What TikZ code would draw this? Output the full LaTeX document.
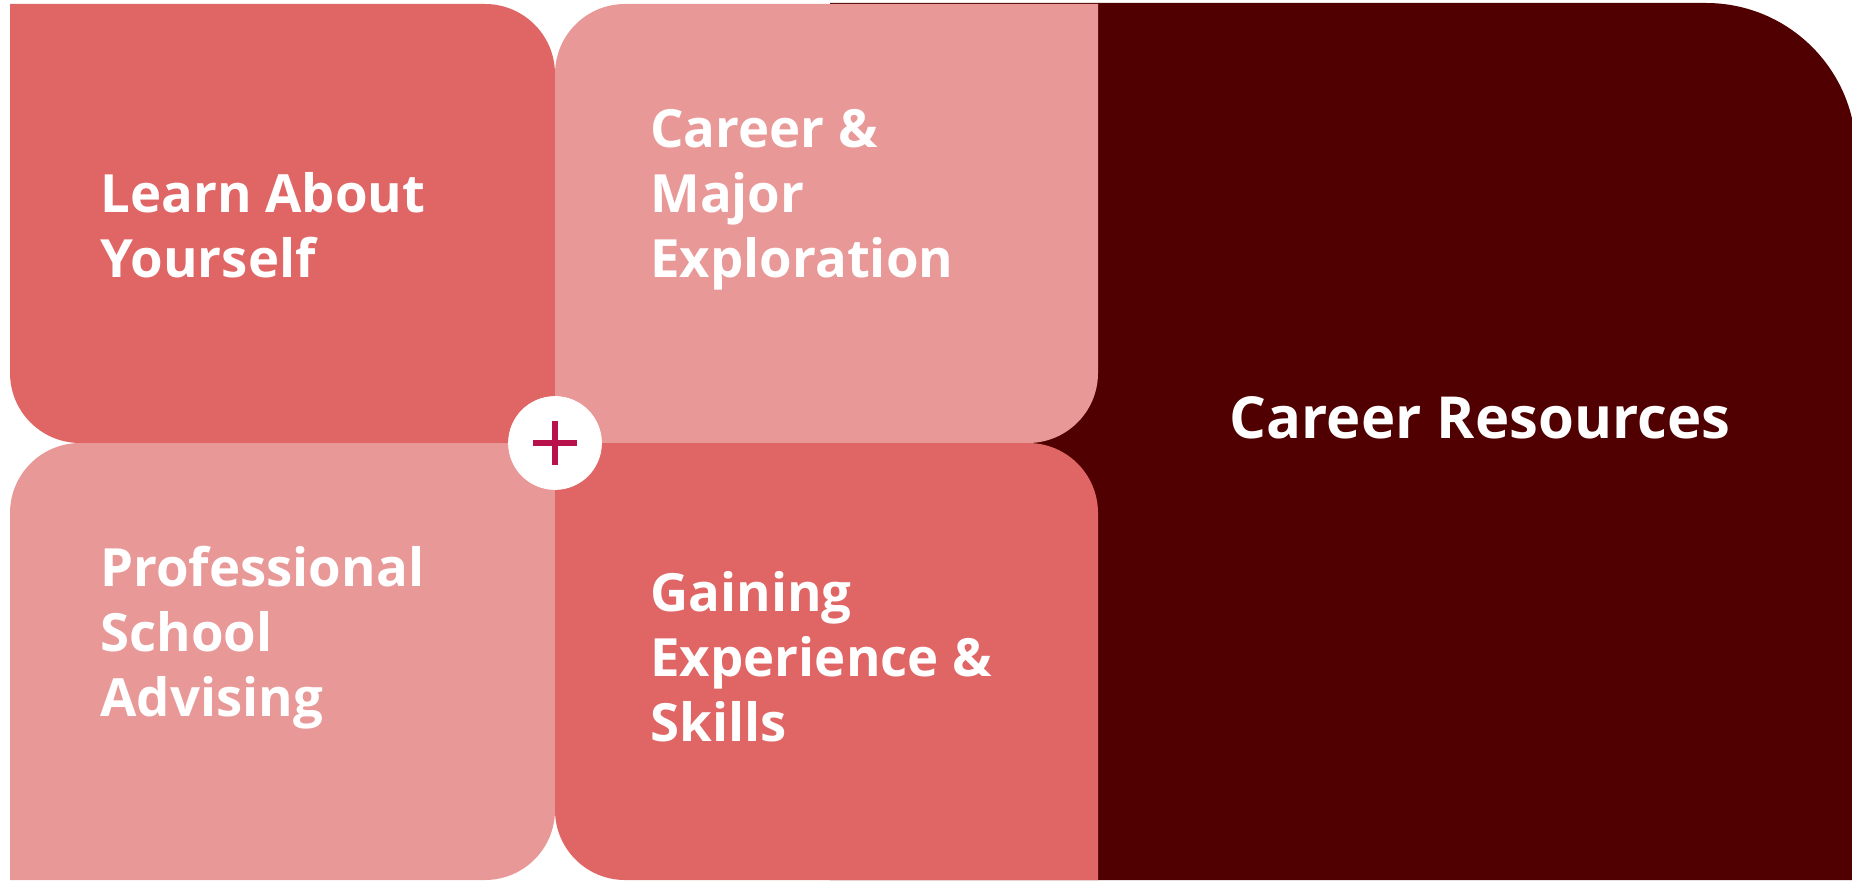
\documentclass[tikz,border=0pt]{standalone}
\usepackage{fontspec}
\setmainfont{Open Sans}
\usepackage{tikz}

\definecolor{salmon}{RGB}{224,102,102}
\definecolor{rosepink}{RGB}{233,152,152}
\definecolor{maroon}{RGB}{80,0,0}
\definecolor{crimson}{RGB}{183,18,75}

\begin{document}
\begin{tikzpicture}[x=0.02cm, y=0.02cm,
    boxtext/.style={text=white, font=\fontsize{30}{37}\selectfont\bfseries, align=left, inner sep=0pt}]
      \useasboundingbox (0,0) rectangle (1852,880);
      % dark block behind the grid
      \fill [maroon] (830,0) -- (830,877) -- (1706,877) arc (90:0:150) -- (1856,0) -- cycle;
      % four tiles
      \fill [salmon] (10,876) -- (485,876) arc (90:0:70) -- (555,437) -- (80,437) arc (270:180:70) -- cycle;
      \fill [rosepink] (555,806) arc (180:90:70) -- (1098,876) -- (1098,507) arc (0:-90:70) -- (555,437) -- cycle;
      \fill [rosepink] (10,367) arc (180:90:70) -- (555,437) -- (555,70) arc (0:-90:70) -- (10,0) -- cycle;
      \fill [salmon] (555,437) -- (1028,437) arc (90:0:70) -- (1098,0) -- (625,0) arc (270:180:70) -- cycle;
      % plus in the middle
      \filldraw [white] (555,437) circle (46.5);
      \coordinate (plus) at (555,437);
      \draw [line width=0.12cm, color=crimson] ([xshift=-0.44cm]plus) -- ([xshift=0.44cm]plus);
      \draw [line width=0.12cm, color=crimson] ([yshift=-0.44cm]plus) -- ([yshift=0.44cm]plus);
      % texts
      \node [boxtext, anchor=west] (learn) at (100,655) {Learn About\\Yourself};
      \node [boxtext, anchor=west] (major) at (650,680) {Career \&\\Major\\Exploration};
      \node [boxtext, anchor=west] (school) at (100,242) {Professional\\School\\Advising};
      \node [boxtext, anchor=west] (gain) at (650,223) {Gaining\\Experience \&\\Skills};
      \node [boxtext, anchor=base, font=\fontsize{33}{37}\selectfont\bfseries] (resources) at (1480,441) {Career Resources};
    \end{tikzpicture}
\end{document}
